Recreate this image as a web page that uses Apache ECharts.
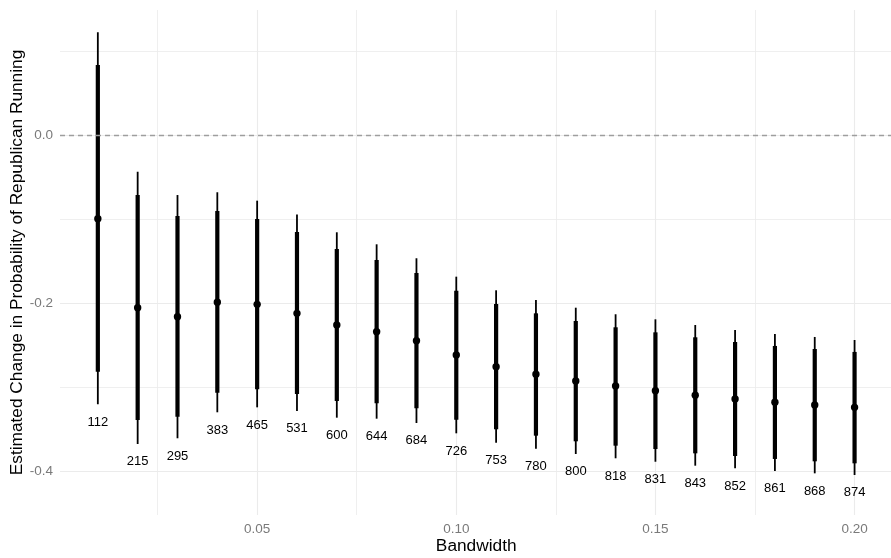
<!DOCTYPE html>
<html>
<head>
<meta charset="utf-8">
<title>Bandwidth sensitivity</title>
<script src="https://cdn.jsdelivr.net/npm/echarts@6/dist/echarts.min.js"></script>
<style>
  html, body { margin: 0; padding: 0; background: #ffffff; }
  #chart { width: 891px; height: 558px; }
</style>
</head>
<body>
<div id="chart"></div>
<script>
// Local-linear estimates at each bandwidth, with 90% (thick) and 95% (thin) intervals
const bandwidth = [0.01, 0.02, 0.03, 0.04, 0.05, 0.06, 0.07, 0.08, 0.09, 0.10,
                   0.11, 0.12, 0.13, 0.14, 0.15, 0.16, 0.17, 0.18, 0.19, 0.20];
const sampleSize = [112, 215, 295, 383, 465, 531, 600, 644, 684, 726,
                    753, 780, 800, 818, 831, 843, 852, 861, 868, 874];
const estimate = [-0.0995, -0.2054, -0.2161, -0.1990, -0.2014, -0.2121, -0.2260, -0.2339, -0.2446, -0.2617,
                  -0.2756, -0.2846, -0.2926, -0.2985, -0.3041, -0.3096, -0.3140, -0.3179, -0.3211, -0.3239];
const lower90 = [-0.2815, -0.3390, -0.3350, -0.3065, -0.3025, -0.3080, -0.3164, -0.3191, -0.3251, -0.3386,
                 -0.3500, -0.3576, -0.3643, -0.3695, -0.3735, -0.3786, -0.3818, -0.3853, -0.3881, -0.3905];
const upper90 = [0.0833, -0.0714, -0.0963, -0.0904, -0.0999, -0.1154, -0.1356, -0.1487, -0.1641, -0.1852,
                 -0.2010, -0.2121, -0.2212, -0.2287, -0.2347, -0.2406, -0.2462, -0.2509, -0.2545, -0.2580];
const lower95 = [-0.3203, -0.3675, -0.3607, -0.3298, -0.3239, -0.3283, -0.3362, -0.3374, -0.3425, -0.3548,
                 -0.3660, -0.3731, -0.3794, -0.3845, -0.3886, -0.3933, -0.3964, -0.3996, -0.4024, -0.4044];
const upper95 = [0.1221, -0.0436, -0.0714, -0.0681, -0.0781, -0.0946, -0.1157, -0.1300, -0.1466, -0.1685,
                 -0.1847, -0.1962, -0.2054, -0.2132, -0.2192, -0.2260, -0.2319, -0.2367, -0.2402, -0.2438];

// Axis ticks
const xMajorTicks = [0.05, 0.10, 0.15, 0.20];
const xMinorTicks = [0.025, 0.075, 0.125, 0.175];
const yMajorTicks = [-0.4, -0.2, 0.0];
const yMinorTicks = [-0.3, -0.1, 0.1];
const referenceLine = 0;

const X_MIN = 0.0005, X_MAX = 0.2095;
const Y_MIN = -0.45195, Y_MAX = 0.14867;

const rows = bandwidth.map((b, i) => [b, estimate[i], lower90[i], upper90[i], lower95[i], upper95[i], sampleSize[i]]);

const chart = echarts.init(document.getElementById('chart'), null, { renderer: 'canvas' });

const FONT = '"Liberation Sans", Arial, Helvetica, sans-serif';
const GRID_COLOR = '#ebebeb';
const TICK_COLOR = '#7a7a7a';

function renderInterval(params, api) {
  const x = api.value(0);
  const pEst = api.coord([x, api.value(1)]);
  const pLo90 = api.coord([x, api.value(2)]);
  const pHi90 = api.coord([x, api.value(3)]);
  const pLo95 = api.coord([x, api.value(4)]);
  const pHi95 = api.coord([x, api.value(5)]);
  return {
    type: 'group',
    children: [
      { type: 'line', shape: { x1: pLo95[0], y1: pLo95[1], x2: pHi95[0], y2: pHi95[1] },
        style: { stroke: '#000', lineWidth: 1.8 } },
      { type: 'line', shape: { x1: pLo90[0], y1: pLo90[1], x2: pHi90[0], y2: pHi90[1] },
        style: { stroke: '#000', lineWidth: 4.2 } },
      { type: 'circle', shape: { cx: pEst[0], cy: pEst[1], r: 3.7 },
        style: { fill: '#000' } },
      { type: 'text', x: pLo95[0], y: pLo95[1] + 17.7,
        style: { text: String(api.value(6)), fill: '#000', font: '13px ' + FONT,
                 align: 'center', verticalAlign: 'middle' } }
    ]
  };
}

chart.setOption({
  backgroundColor: '#ffffff',
  animation: false,
  grid: { left: 60, top: 10, width: 832.4, height: 505, containLabel: false, outerBoundsMode: 'none' },
  xAxis: [
    {
      type: 'value', min: X_MIN, max: X_MAX,
      name: 'Bandwidth', nameLocation: 'middle', nameGap: 23, nameMoveOverlap: false,
      nameTextStyle: { color: '#000', fontSize: 17.3, fontFamily: FONT },
      axisLine: { show: false },
      axisTick: { show: false, customValues: xMajorTicks },
      axisLabel: { customValues: xMajorTicks, color: TICK_COLOR, fontSize: 13.5, fontFamily: FONT,
                   margin: 7, formatter: v => v.toFixed(2) },
      splitLine: { show: true, lineStyle: { color: GRID_COLOR, width: 1.1 } }
    },
    {
      type: 'value', min: X_MIN, max: X_MAX, position: 'bottom',
      axisLine: { show: false },
      axisTick: { show: false, customValues: xMinorTicks },
      axisLabel: { show: false, customValues: xMinorTicks },
      splitLine: { show: true, lineStyle: { color: GRID_COLOR, width: 0.8 } }
    }
  ],
  yAxis: [
    {
      type: 'value', min: Y_MIN, max: Y_MAX,
      name: 'Estimated Change in Probability of Republican Running',
      nameLocation: 'middle', nameGap: 34, nameRotate: 90, nameMoveOverlap: false,
      nameTextStyle: { color: '#000', fontSize: 17.3, fontFamily: FONT },
      axisLine: { show: false },
      axisTick: { show: false, customValues: yMajorTicks },
      axisLabel: { customValues: yMajorTicks, color: TICK_COLOR, fontSize: 13.5, fontFamily: FONT,
                   margin: 7, formatter: v => v.toFixed(1) },
      splitLine: { show: true, lineStyle: { color: GRID_COLOR, width: 1.1 } }
    },
    {
      type: 'value', min: Y_MIN, max: Y_MAX, position: 'left',
      axisLine: { show: false },
      axisTick: { show: false, customValues: yMinorTicks },
      axisLabel: { show: false, customValues: yMinorTicks },
      splitLine: { show: true, lineStyle: { color: GRID_COLOR, width: 0.8 } }
    }
  ],
  series: [
    {
      type: 'line', data: [], xAxisIndex: 0, yAxisIndex: 0, silent: true,
      markLine: {
        symbol: 'none', silent: true, label: { show: false },
        lineStyle: { color: '#9e9e9e', width: 1.3, type: [5, 4] },
        data: [{ yAxis: referenceLine }]
      }
    },
    {
      type: 'custom', xAxisIndex: 0, yAxisIndex: 0,
      renderItem: renderInterval,
      data: rows,
      clip: false
    }
  ]
});
</script>
</body>
</html>
